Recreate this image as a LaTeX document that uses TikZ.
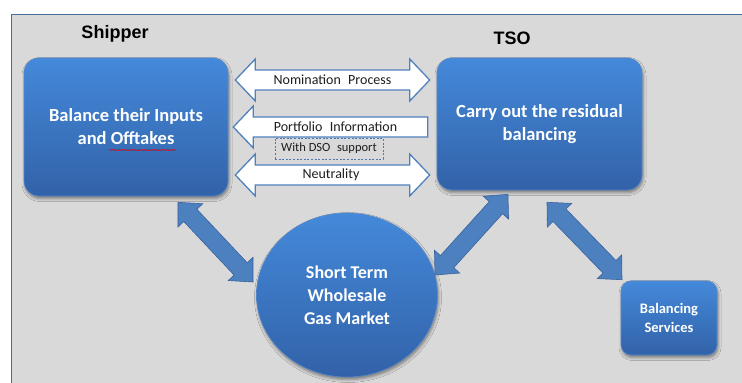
\documentclass[tikz,border=0pt]{standalone}
\usepackage{fontspec}
\setmainfont{Carlito}
\newfontfamily\headfont{Liberation Sans}
\usetikzlibrary{calc,shapes.geometric,shadows.blur,decorations.pathmorphing}

\definecolor{panelgray}{RGB}{217,217,217}
\definecolor{frameblue}{RGB}{74,108,154}
\definecolor{boxtop}{RGB}{68,137,218}
\definecolor{boxbot}{RGB}{50,98,168}
\definecolor{boxedge}{RGB}{84,136,204}
\definecolor{fatfill}{RGB}{77,128,190}
\definecolor{fatedge}{RGB}{58,98,156}
\definecolor{flowedge}{RGB}{79,129,189}
\definecolor{dashedge}{RGB}{79,120,178}
\definecolor{labeltext}{RGB}{30,30,30}

\tikzset{
  softshadow/.style={blur shadow={shadow xshift=1pt, shadow yshift=-2.5pt,
      shadow blur radius=3pt, shadow opacity=45}},
  bluefill/.style={shading=axis, top color=boxtop, bottom color=boxbot,
      draw=boxedge, line width=0.6pt, text=white, align=center, inner sep=0pt,
      softshadow},
  rolebox/.style={bluefill, rounded corners=15pt,
      font=\bfseries\fontsize{18.5}{23}\selectfont},
  marketnode/.style={bluefill, ellipse,
      font=\bfseries\fontsize{18}{23}\selectfont},
  servicebox/.style={bluefill, rounded corners=10pt,
      font=\bfseries\fontsize{14.5}{19}\selectfont},
  rolelabel/.style={font=\headfont\bfseries\fontsize{18}{20}\selectfont},
  flowarrow/.style={fill=white, draw=flowedge, line width=1.3pt, line join=miter},
  flowlabel/.style={font=\fontsize{14}{16}\selectfont, text=labeltext,
      inner sep=0pt},
  notebox/.style={draw=dashedge, dash pattern=on 2pt off 1.6pt, line width=0.7pt,
      font=\fontsize{12.5}{14}\selectfont, text=labeltext, inner sep=0pt},
  fatarrow/.style={fill=fatfill, draw=fatedge, line width=0.6pt, line join=miter},
}

% horizontal double-headed flow arrow between two tips on one level
\newcommand\flowdouble[2]{%
  \filldraw[flowarrow] (#1) -- ($(#1)+(20,-21)$) -- ($(#1)+(20,-10)$)
    -- ($(#2)+(-20,-10)$) -- ($(#2)+(-20,-21)$) -- (#2)
    -- ($(#2)+(-20,21)$) -- ($(#2)+(-20,10)$)
    -- ($(#1)+(20,10)$) -- ($(#1)+(20,21)$) -- cycle;}
% horizontal flow arrow pointing left, flat at its right end
\newcommand\flowleft[2]{%
  \filldraw[flowarrow] (#1) -- ($(#1)+(20,-21)$) -- ($(#1)+(20,-10)$)
    -- ($(#2)+(0,-10)$) -- ($(#2)+(0,10)$)
    -- ($(#1)+(20,10)$) -- ($(#1)+(20,21)$) -- cycle;}
% thick slanted double-headed arrow between two tips
\newcommand\fatdouble[2]{%
  \filldraw[fatarrow] (#1)
    -- ($(#1)!18pt!(#2)!17pt!90:(#2)$) -- ($(#1)!18pt!(#2)!9pt!90:(#2)$)
    -- ($(#2)!18pt!(#1)!9pt!-90:(#1)$) -- ($(#2)!18pt!(#1)!17pt!-90:(#1)$)
    -- (#2)
    -- ($(#2)!18pt!(#1)!17pt!90:(#1)$) -- ($(#2)!18pt!(#1)!9pt!90:(#1)$)
    -- ($(#1)!18pt!(#2)!9pt!-90:(#2)$) -- ($(#1)!18pt!(#2)!17pt!-90:(#2)$)
    -- cycle;}

\begin{document}
\begin{tikzpicture}[x=1pt, y=-1pt]
  \useasboundingbox (0,0) rectangle (742,383);
  \fill[white] (0,0) rectangle (742,383);

  % panel
  \fill[panelgray] (11,14) rectangle (742,383);
  \draw[frameblue, line width=1.8pt] (11.5,383) -- (11.5,14.5) -- (742,14.5);

  % role headings
  \node[rolelabel] (shiphead) at (115,34) {Shipper};
  \node[rolelabel] (tsohead) at (512,38) {TSO};

  % main blocks
  \node[rolebox, minimum width=204pt, minimum height=138pt] (shipbox) at (126,127)
    {Balance their Inputs\\and Offtakes};
  \node[rolebox, minimum width=205pt, minimum height=132pt] (tsobox) at (539.5,124)
    {Carry out the residual\\balancing};
  \node[marketnode, minimum width=181pt, minimum height=164pt] (market) at (347,295)
    {Short Term\\Wholesale\\Gas Market};
  \node[servicebox, minimum width=96pt, minimum height=74pt] (balbox) at (669,318)
    {Balancing\\Services};

  % spell-check squiggle under "Offtakes"
  \draw[red!85!black, line width=0.5pt, decorate,
        decoration={snake, amplitude=0.6pt, segment length=2.5pt}]
    ($(shipbox.center)+(-17,23)$) -- ($(shipbox.center)+(50,23)$);

  % information flows between shipper and TSO
  \coordinate (nomL) at ($(shipbox.east)+(7,-47)$);
  \coordinate (nomR) at ($(tsobox.west)+(-7,-44)$);
  \coordinate (portL) at ($(shipbox.east)+(5,0)$);
  \coordinate (portR) at ($(tsobox.west)+(-9,3)$);
  \coordinate (neuL) at ($(shipbox.east)+(7,48)$);
  \coordinate (neuR) at ($(tsobox.west)+(-7,51)$);

  \flowdouble{nomL}{nomR}
  \flowleft{portL}{portR}
  \flowdouble{neuL}{neuR}

  \node[flowlabel] (nomtext) at (332.5,80) {Nomination\hspace{0.3em} Process};
  \node[flowlabel] (porttext) at (335.5,127) {Portfolio\hspace{0.3em} Information};
  \node[notebox, minimum width=108pt, minimum height=21pt] (dsonote) at (329,148.5)
    {With DSO\hspace{0.3em} support};
  \node[flowlabel] (neutext) at (331,175) {Neutrality};

  % market links
  \coordinate (m1a) at ($(shipbox.south)+(52,6)$);
  \coordinate (m1b) at ($(market.center)+(-94,-13)$);
  \coordinate (m2a) at ($(market.center)+(88,-20)$);
  \coordinate (m2b) at ($(tsobox.south)+(-31.5,4)$);
  \coordinate (m3a) at ($(tsobox.south)+(7.5,12)$);
  \coordinate (m3b) at ($(balbox.north)+(-47,-1)$);

  \fatdouble{m1a}{m1b}
  \fatdouble{m2a}{m2b}
  \fatdouble{m3a}{m3b}
\end{tikzpicture}
\end{document}
